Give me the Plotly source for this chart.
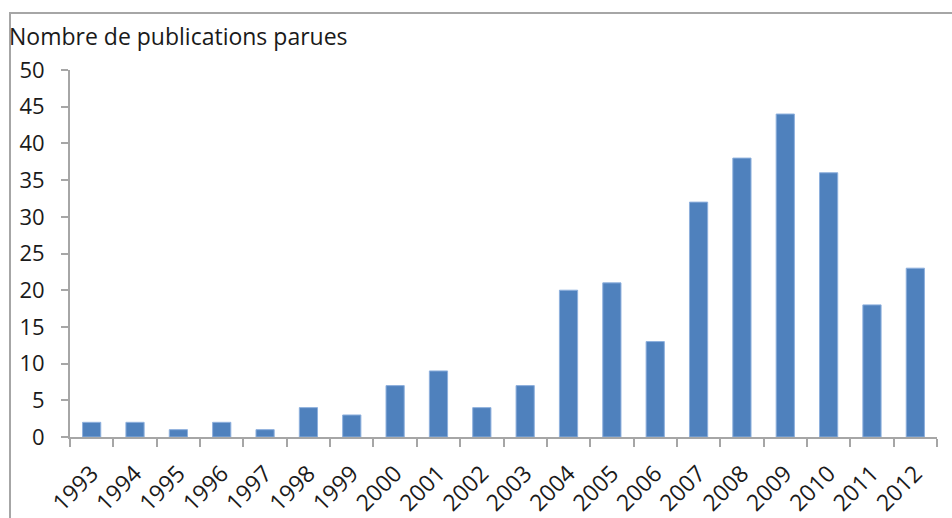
import plotly.graph_objects as go

years = [str(y) for y in range(1993, 2013)]
publications = [2, 2, 1, 2, 1, 4, 3, 7, 9, 4, 7, 20, 21, 13, 32, 38, 44, 36, 18, 23]
y_ticks = [0, 5, 10, 15, 20, 25, 30, 35, 40, 45, 50]
title_text = "Nombre de publications parues"

W, H = 952, 518
L, R, T, B = 70, 15, 70, 81
pw, ph = W - L - R, H - T - B

fig = go.Figure(go.Bar(
    x=years, y=publications,
    marker=dict(color="#4F81BD", line=dict(color="#8EB0DD", width=1)),
))

font_family = "'Open Sans', sans-serif"
fs = 22
fig.update_layout(
    width=W, height=H,
    margin=dict(l=L, r=R, t=T, b=B, autoexpand=False),
    paper_bgcolor="white", plot_bgcolor="white",
    bargap=0.58,
    showlegend=False,
    font=dict(family=font_family, size=fs, color="#1a1a1a"),
    title=dict(text=title_text, x=9 / W, xanchor="left", xref="container",
               y=1 - 37 / H, yanchor="middle", yref="container",
               font=dict(family=font_family, size=23, color="#1a1a1a")),
)
fig.update_xaxes(
    type="category", tickangle=-45, tickson="boundaries",
    ticks="outside", ticklen=8, tickcolor="#A6A6A6", tickwidth=2,
    showline=True, linecolor="#A6A6A6", linewidth=2, showgrid=False,
    automargin=False, ticklabelstandoff=12,
    tickfont=dict(family=font_family, size=23, color="#1a1a1a"),
)
fig.update_yaxes(
    range=[0, 50], tickvals=y_ticks,
    ticks="outside", ticklen=7, tickcolor="#A6A6A6", tickwidth=2,
    showline=True, linecolor="#A6A6A6", linewidth=2, showgrid=False, zeroline=False,
    ticklabelstandoff=12, automargin=False,
    tickfont=dict(family=font_family, size=fs, color="#1a1a1a"),
)
# outer chart border (extends beyond the visible area to the right and bottom)
fig.add_shape(type="rect", xref="paper", yref="paper",
              x0=(10 - L) / pw, x1=1.2, y0=-0.5, y1=(H - B - 13) / ph,
              line=dict(color="#A6A6A6", width=2), layer="below")

fig.write_html("out.html", config={"displayModeBar": False},
               post_script="document.body.style.margin='0';document.body.style.overflow='hidden';")
